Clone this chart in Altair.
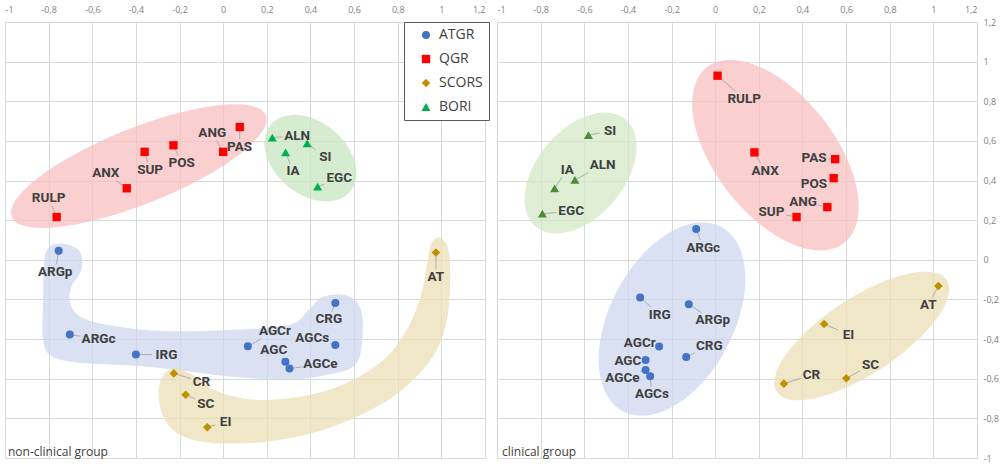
import math
import altair as alt
import pandas as pd

# ---------------- data ----------------
GROUPS = ["ATGR", "QGR", "SCORS", "BORI"]
SHAPES = ["circle", "square", "diamond", "triangle-up"]
SIZES = [64, 81, 110, 100]
TICKS = [-1, -0.8, -0.6, -0.4, -0.2, 0, 0.2, 0.4, 0.6, 0.8, 1, 1.2]

# non-clinical group
nc_names = ["RULP", "ANX", "SUP", "POS", "ANG", "PAS",
            "ALN", "IA", "SI", "EGC",
            "ARGp", "ARGc", "IRG", "AGCr", "AGC", "AGCe", "CRG", "AGCs",
            "AT", "CR", "SC", "EI"]
nc_group = ["QGR"] * 6 + ["BORI"] * 4 + ["ATGR"] * 8 + ["SCORS"] * 4
nc_x = [-0.763, -0.442, -0.360, -0.228, 0.000, 0.076,
        0.225, 0.286, 0.385, 0.433,
        -0.754, -0.703, -0.400, 0.113, 0.285, 0.304, 0.514, 0.514,
        0.975, -0.226, -0.172, -0.073]
nc_y = [0.216, 0.361, 0.545, 0.578, 0.545, 0.670,
        0.617, 0.542, 0.588, 0.369,
        0.046, -0.377, -0.478, -0.436, -0.514, -0.549, -0.218, -0.430,
        0.037, -0.573, -0.681, -0.845]
nc_lx = [-0.800, -0.538, -0.335, -0.190, -0.050, 0.075,
         0.339, 0.320, 0.468, 0.532,
         -0.770, -0.571, -0.260, 0.237, 0.232, 0.446, 0.484, 0.408,
         0.975, -0.100, -0.080, 0.011]
nc_ly = [0.310, 0.437, 0.455, 0.487, 0.639, 0.570,
         0.625, 0.447, 0.517, 0.411,
         -0.060, -0.400, -0.478, -0.360, -0.456, -0.528, -0.300, -0.394,
         -0.085, -0.616, -0.725, -0.817]

# clinical group
cl_names = ["RULP", "ANX", "PAS", "POS", "ANG", "SUP",
            "SI", "ALN", "IA", "EGC",
            "ARGc", "IRG", "ARGp", "AGCr", "CRG", "AGC", "AGCe", "AGCs",
            "AT", "EI", "CR", "SC"]
cl_group = ["QGR"] * 6 + ["BORI"] * 4 + ["ATGR"] * 8 + ["SCORS"] * 4
cl_x = [0.011, 0.180, 0.550, 0.543, 0.514, 0.373,
        -0.581, -0.643, -0.736, -0.792,
        -0.087, -0.344, -0.121, -0.257, -0.133, -0.319, -0.319, -0.298,
        1.023, 0.499, 0.315, 0.601]
cl_y = [0.929, 0.542, 0.508, 0.412, 0.266, 0.216,
        0.629, 0.403, 0.361, 0.233,
        0.156, -0.190, -0.224, -0.438, -0.490, -0.506, -0.556, -0.588,
        -0.132, -0.324, -0.625, -0.598]
cl_lx = [0.133, 0.229, 0.453, 0.453, 0.403, 0.258,
         -0.482, -0.516, -0.678, -0.660,
         -0.055, -0.254, -0.011, -0.346, -0.027, -0.400, -0.425, -0.290,
         0.977, 0.611, 0.441, 0.712]
cl_ly = [0.812, 0.447, 0.513, 0.383, 0.290, 0.241,
         0.650, 0.478, 0.455, 0.244,
         0.062, -0.277, -0.305, -0.419, -0.436, -0.511, -0.594, -0.678,
         -0.227, -0.377, -0.581, -0.531]

# highlight regions (outlines in data units)
nc_blue_x = [-0.744, -0.661, -0.648, -0.698, -0.698, -0.643, -0.506, -0.277, 0.025, 0.299,
             0.391, 0.455, 0.560, 0.629, 0.638, 0.606, 0.482, 0.299, 0.025, -0.186,
             -0.401, -0.661, -0.790, -0.826, -0.826, -0.822, -0.803]
nc_blue_y = [0.082, 0.047, -0.043, -0.143, -0.229, -0.294, -0.334, -0.359, -0.354, -0.329,
             -0.254, -0.188, -0.178, -0.244, -0.394, -0.529, -0.579, -0.604, -0.589, -0.559,
             -0.534, -0.519, -0.484, -0.394, -0.229, -0.028, 0.057]
nc_tan_x = [0.990, 1.031, 1.040, 1.027, 0.972, 0.857, 0.697, 0.468, 0.217, -0.035,
            -0.195, -0.273, -0.296, -0.273, -0.218, -0.135, -0.035, 0.125, 0.331, 0.537,
            0.720, 0.834, 0.903, 0.935, 0.953]
nc_tan_y = [0.112, 0.057, -0.093, -0.294, -0.469, -0.620, -0.745, -0.855, -0.915, -0.925,
            -0.885, -0.795, -0.670, -0.579, -0.549, -0.584, -0.660, -0.705, -0.695, -0.635,
            -0.519, -0.369, -0.193, -0.018, 0.082]
# ellipses: centre x, centre y, semi-axes (x-units), screen angle (deg), colour
nc_ellipses = [(-0.387, 0.473, 0.627, 0.174, 21.8, "#F7BFBF"),
               (0.400, 0.513, 0.238, 0.165, -40.0, "#C8E6C1")]
cl_ellipses = [(-0.617, 0.438, 0.320, 0.200, 50.0, "#D2E8C7"),
               (0.276, 0.528, 0.511, 0.274, -52.0, "#F7BFBF"),
               (-0.198, -0.299, 0.479, 0.283, 62.0, "#CCD7EE"),
               (0.672, -0.384, 0.466, 0.174, 33.4, "#EBDEB6")]
NC_BLUE = "#CCD7EE"
NC_TAN = "#EBDEB6"

NC_COLORS = ["#4472C4", "#FF0000", "#BF9000", "#00B050"]
CL_COLORS = ["#4472C4", "#FF0000", "#BF9000", "#4E8B36"]

# ---------------- layout ----------------
W, H = 480, 436
XMIN, XMAX, YMIN, YMAX = -1.0, 1.2, -1.0, 1.2
KX = W / (XMAX - XMIN)
KY = H / (YMAX - YMIN)
ASPECT = KX / KY
LABEL_EXPR = "replace(toString(round(datum.value*10)/10), '.', ',')"
GRID = "#D9D9D9"
FILL_OPACITY = 0.75
AXIS_LABEL = dict(labelFont="Open Sans", labelFontSize=9, labelColor="#808080")

xscale = alt.Scale(domain=[XMIN, XMAX], nice=False, zero=False)
yscale = alt.Scale(domain=[YMIN, YMAX], nice=False, zero=False)
xaxis = alt.Axis(orient="top", values=TICKS, labelExpr=LABEL_EXPR, grid=True, gridColor=GRID,
                 ticks=False, tickSize=0, domain=False, labelPadding=8, title=None,
                 labelOverlap=False, **AXIS_LABEL)
yaxis_left = alt.Axis(values=TICKS, labels=False, grid=True, gridColor=GRID, ticks=False,
                      tickSize=0, domain=False, title=None, minExtent=0, maxExtent=0)
yaxis_right = alt.Axis(orient="right", values=TICKS, labelExpr=LABEL_EXPR, grid=True,
                       gridColor=GRID, ticks=False, tickSize=0, domain=False, labelPadding=6,
                       title=None, labelOverlap=False, **AXIS_LABEL)


def ellipse_frame(spec):
    cx, cy, a, b, ang, _ = spec
    th = math.radians(ang)
    rows = []
    n = 90
    for i in range(n):
        t = 2 * math.pi * i / n
        u, v = a * math.cos(t), b * math.sin(t)
        dx = u * math.cos(th) - v * math.sin(th)
        dy = (u * math.sin(th) + v * math.cos(th)) * ASPECT
        rows.append({"x": cx + dx, "y": cy + dy, "i": i})
    return pd.DataFrame(rows)


def leaders(names, xs, ys, lxs, lys):
    rows = []
    for n, x, y, lx, ly in zip(names, xs, ys, lxs, lys):
        dxp, dyp = (x - lx) * KX, (y - ly) * KY
        hw = sum(8.4 if c.isupper() else 7.0 for c in n) / 2 + 2
        hh = 7.5
        s = min(hw / abs(dxp) if dxp else 1e9, hh / abs(dyp) if dyp else 1e9)
        if s >= 1:
            continue
        if (1 - s) * math.hypot(dxp, dyp) < 4:
            continue
        rows.append({"x": x, "y": y, "ex": lx + (x - lx) * s, "ey": ly + (y - ly) * s})
    return pd.DataFrame(rows)


def enc_xy(yaxis):
    return dict(x=alt.X("x:Q", scale=xscale, axis=xaxis),
                y=alt.Y("y:Q", scale=yscale, axis=yaxis))


def panel(names, groups, xs, ys, lxs, lys, ellipses, blobs, caption, colors, yaxis, legend, cap_x):
    layers = []
    for spec in ellipses:
        layers.append(
            alt.Chart(ellipse_frame(spec)).mark_line(
                interpolate="linear-closed", fill=spec[5], fillOpacity=FILL_OPACITY, strokeOpacity=0
            ).encode(order="i:Q", **enc_xy(yaxis))
        )
    for bx, by, col in blobs:
        df = pd.DataFrame({"x": bx, "y": by, "i": list(range(len(bx)))})
        layers.append(
            alt.Chart(df).mark_line(
                interpolate="cardinal-closed", fill=col, fillOpacity=FILL_OPACITY, strokeOpacity=0
            ).encode(order="i:Q", **enc_xy(yaxis))
        )
    ld = leaders(names, xs, ys, lxs, lys)
    layers.append(
        alt.Chart(ld).mark_rule(color="#A0A0A0", strokeWidth=0.8).encode(
            x2="ex:Q", y2="ey:Q", **enc_xy(yaxis))
    )
    pts = pd.DataFrame({"name": names, "group": groups, "x": xs, "y": ys})
    if legend:
        leg = alt.Legend(title=None, orient="none", legendX=399, legendY=0,
                         strokeColor="#595959", fillColor="white", padding=6,
                         symbolOffset=9, labelFont="Open Sans", labelFontSize=14,
                         labelColor="#404040", rowPadding=10, labelOffset=6,
                         symbolStrokeWidth=0, symbolOpacity=1, symbolSize=80)
    else:
        leg = None
    layers.append(
        alt.Chart(pts).mark_point(filled=True, opacity=1, strokeWidth=0).encode(
            color=alt.Color("group:N", scale=alt.Scale(domain=GROUPS, range=colors), legend=leg),
            shape=alt.Shape("group:N", scale=alt.Scale(domain=GROUPS, range=SHAPES), legend=leg),
            size=alt.Size("group:N", scale=alt.Scale(domain=GROUPS, range=SIZES), legend=None),
            **enc_xy(yaxis))
    )
    lab = pd.DataFrame({"name": names, "x": lxs, "y": lys})
    layers.append(
        alt.Chart(lab).mark_text(font="Roboto", fontWeight="bold", fontSize=13.5,
                                 color="#3F3F3F").encode(text="name:N", **enc_xy(yaxis))
    )
    layers.append(
        alt.Chart(pd.DataFrame({"caption": [caption]})).mark_text(
            align="left", baseline="middle", font="Open Sans", fontSize=12, color="#404040"
        ).encode(x=alt.value(cap_x), y=alt.value(H - 6), text="caption:N")
    )
    return alt.layer(*layers).properties(width=W, height=H)


left = panel(nc_names, nc_group, nc_x, nc_y, nc_lx, nc_ly, nc_ellipses,
             [(nc_blue_x, nc_blue_y, NC_BLUE), (nc_tan_x, nc_tan_y, NC_TAN)],
             "non-clinical group", NC_COLORS, yaxis_left, True, 3)
right = panel(cl_names, cl_group, cl_x, cl_y, cl_lx, cl_ly, cl_ellipses, [],
              "clinical group", CL_COLORS, yaxis_right, False, 5)

chart = alt.hconcat(left, right, spacing=12, bounds="flush").resolve_scale(
    color="independent", shape="independent", size="independent"
).properties(
    padding={"left": 5, "top": 5, "right": 0, "bottom": 0}
).configure_view(stroke=None)

chart.save("out.html", embed_options={"renderer": "svg", "actions": False})
